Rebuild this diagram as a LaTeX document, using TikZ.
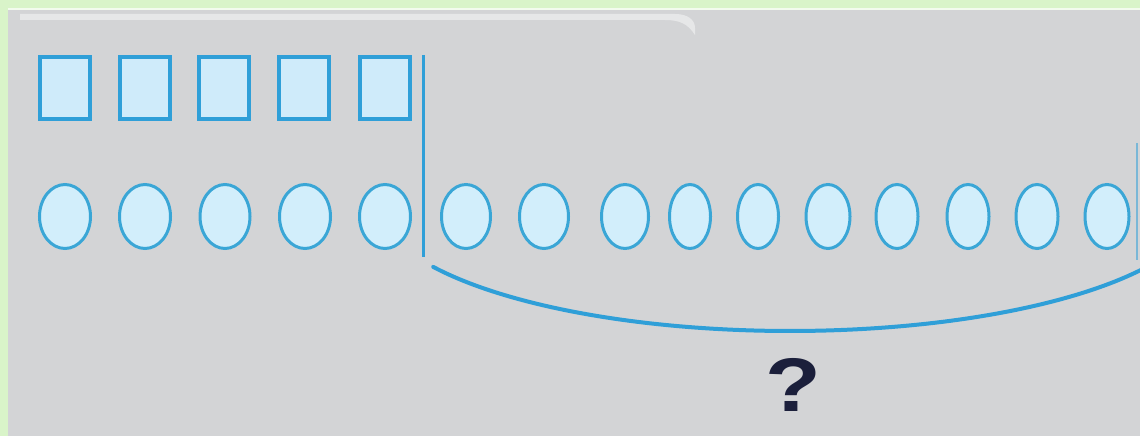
\documentclass[tikz,border=0pt]{standalone}
\usepackage{fontspec}
\newfontfamily\qfont{Liberation Sans}
\usetikzlibrary{shapes.geometric}
\definecolor{bggreen}{HTML}{D9F4C9}
\definecolor{bggray}{HTML}{D3D4D6}
\definecolor{boxline}{HTML}{2F9FD8}
\definecolor{boxfill}{HTML}{CFEBFA}
\definecolor{ovline}{HTML}{3AA6D6}
\definecolor{ovfill}{HTML}{D2EEFB}
\definecolor{qcol}{HTML}{1B1F3B}
\tikzset{
  sq/.style={draw=boxline, fill=boxfill, line width=4pt, minimum width=50pt, minimum height=62pt, inner sep=0pt},
  ov/.style={ellipse, draw=ovline, fill=ovfill, line width=3pt, minimum height=64pt, inner sep=0pt},
  divider/.style={draw=boxline, line width=3pt},
  thindiv/.style={draw=boxline!55!bggray, line width=2pt},
  brace/.style={draw=boxline, line width=4pt, line cap=round},
}
\begin{document}
\begin{tikzpicture}[x=1pt,y=-1pt]
\useasboundingbox (0,0) rectangle (1140,436);
\fill[bggreen] (0,0) rectangle (1140,436);
\fill[white, opacity=0.7] (8,8) rectangle (1140,10);
\fill[bggray] (8,10) rectangle (1140,436);
% top highlight
\fill[white, opacity=0.45] (20,14) -- (675,14) .. controls (688,14) and (695,20) .. (695,28) -- (695,35) .. controls (688,24) and (680,20) .. (665,20) -- (20,20) -- cycle;
% squares
\foreach \i/\x in {1/64.5,2/144.5,3/224,4/304,5/384.5}{
  \node[sq] (s\i) at (\x,88) {};
}
% ovals
\foreach \i/\x/\w in {1/65/51,2/145/51,3/225/50,4/305/51,5/385/51,6/466/49,7/544/49,8/625/47,9/690/41,10/758/41,11/828/44,12/897/42,13/968/42,14/1037/42,15/1107/44}{
  \node[ov, minimum width=\w pt] (o\i) at (\x,216.5) {};
}
% dividers
\coordinate (d1t) at (423,55);
\coordinate (d1b) at (423,257);
\draw[divider] (d1t) -- (d1b);
\coordinate (d2t) at (1137,143);
\coordinate (d2b) at (1137,260);
\draw[thindiv] (d2t) -- (d2b);
% brace arc
\draw[brace] plot[domain=149.3:30, samples=80, smooth] ({790+415*cos(\x)},{200+131*sin(\x)});
% question mark
\node[text=qcol, font=\qfont\bfseries\fontsize{76}{76}\selectfont, xscale=1.2, inner sep=0pt] (q) at (793,385) {?};
\end{tikzpicture}
\end{document}
